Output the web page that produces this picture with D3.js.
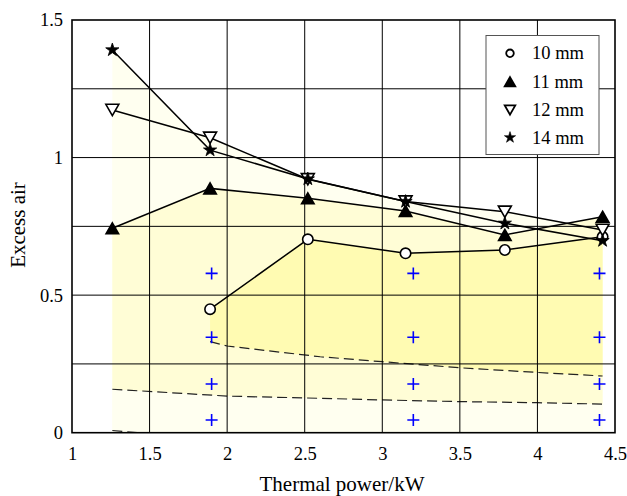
<!DOCTYPE html>
<html>
<head>
<meta charset="utf-8">
<script src="https://cdn.jsdelivr.net/npm/d3@7"></script>
<style>
  html, body { margin: 0; padding: 0; background: #fff; }
  svg { display: block; }
  text { font-family: "Liberation Serif", "Times New Roman", serif; fill: #000; }
</style>
</head>
<body>
<svg id="chart" width="627" height="496"></svg>
<script>
// ---- data ----
const powerX = [1.26, 1.89, 2.52, 3.15, 3.79, 4.42];
const seriesNames = ["10 mm", "11 mm", "12 mm", "14 mm"];
const air10 = [null, 0.449, 0.703, 0.652, 0.664, 0.712];
const air11 = [0.743, 0.888, 0.852, 0.806, 0.719, 0.785];
const air12 = [1.173, 1.072, 0.921, 0.840, 0.803, 0.737];
const air14 = [1.391, 1.027, 0.922, 0.840, 0.761, 0.698];

const crossX = [1.9, 3.2, 4.4];
const crossY = [0.579, 0.347, 0.177, 0.046];

const upperDashX = [1.89, 2.0, 2.6, 3.0, 3.5, 4.0, 4.42];
const upperDashY = [0.331, 0.315, 0.276, 0.258, 0.236, 0.219, 0.206];
const lowerDashX = [1.26, 2.0, 2.6, 3.0, 3.5, 4.0, 4.42];
const lowerDashY = [0.158, 0.133, 0.125, 0.119, 0.113, 0.109, 0.104];
const bottomDashX = [1.26, 1.42, 1.6];
const bottomDashY = [0.008, 0.0, -0.012];

const xTicks = [1, 1.5, 2, 2.5, 3, 3.5, 4, 4.5];
const yTicks = [0, 0.5, 1, 1.5];
const yGrid = [0.25, 0.5, 0.75, 1, 1.25];
const xTitle = "Thermal power/kW";
const yTitle = "Excess air";

// ---- layout ----
const svg = d3.select("#chart");
const L = 72, R = 615, T = 20, B = 432.7;
const x = d3.scaleLinear().domain([1, 4.5]).range([L, R]);
const y = d3.scaleLinear().domain([0, 1.5]).range([B, T]);

const defs = svg.append("defs");
defs.append("clipPath").attr("id", "plotClip")
  .append("rect").attr("x", L).attr("y", T).attr("width", R - L).attr("height", B - T);

const pts = (xs, ys) => xs.map((v, i) => [v, ys[i]]).filter(d => d[1] !== null);
const line = d3.line().x(d => x(d[0])).y(d => y(d[1]));

const plot = svg.append("g").attr("clip-path", "url(#plotClip)");

// ---- shaded regions ----
function polyUnder(p) {
  const poly = p.concat([[p[p.length - 1][0], 0], [p[0][0], 0]]);
  return line(poly) + "Z";
}
function polyBetween(top, bottom) {
  const poly = top.concat(bottom.slice().reverse());
  return line(poly) + "Z";
}
const p10 = pts(powerX, air10), p11 = pts(powerX, air11), p12 = pts(powerX, air12), p14 = pts(powerX, air14);
const pUp = pts(upperDashX, upperDashY), pLow = pts(lowerDashX, lowerDashY);

plot.append("path").attr("d", polyUnder(p14)).attr("fill", "#fffff0");
plot.append("path").attr("d", polyUnder(p12)).attr("fill", "#fffff0");
plot.append("path").attr("d", polyBetween(p11, pLow)).attr("fill", "#fffdd6");
plot.append("path").attr("d", polyBetween(p10, pUp)).attr("fill", "#fffbb2");

// ---- grid ----
const grid = svg.append("g").attr("stroke", "#000").attr("stroke-width", 1);
xTicks.slice(1, -1).forEach(v => {
  grid.append("line").attr("x1", x(v)).attr("x2", x(v)).attr("y1", T).attr("y2", B);
});
yGrid.forEach(v => {
  grid.append("line").attr("x1", L).attr("x2", R).attr("y1", y(v)).attr("y2", y(v));
});

// ---- dashed lines ----
[pUp, pLow, pts(bottomDashX, bottomDashY)].forEach(p => {
  plot.append("path").attr("d", line(p)).attr("fill", "none")
    .attr("stroke", "#222").attr("stroke-width", 1.2).attr("stroke-dasharray", "10,5");
});

// ---- blue crosses ----
const crosses = [];
crossX.forEach(cx => crossY.forEach(cy => crosses.push([cx, cy])));
svg.append("g").selectAll("path").data(crosses).join("path")
  .attr("d", d => {
    const px = x(d[0]), py = y(d[1]), s = 6;
    return `M${px - s},${py}H${px + s}M${px},${py - s}V${py + s}`;
  })
  .attr("stroke", "#0000ff").attr("stroke-width", 1.6).attr("fill", "none");

// ---- series lines ----
const seriesData = [p10, p11, p12, p14];
seriesData.forEach(p => {
  svg.append("path").attr("d", line(p)).attr("fill", "none")
    .attr("stroke", "#000").attr("stroke-width", 1.5);
});

// ---- markers ----
function markerPath(kind, s) {
  if (kind === 0) return d3.symbol(d3.symbolCircle, Math.PI * s * s)();
  if (kind === 1) { const w = s * 1.2, h = s * 1.05; return `M0,${-h}L${w},${h}L${-w},${h}Z`; }
  if (kind === 2) { const w = s * 1.2, h = s * 1.05; return `M0,${h}L${w},${-h}L${-w},${-h}Z`; }
  return d3.symbol(d3.symbolStar, s * s * 1.25)();
}
const markerFill = ["#fff", "#000", "#fff", "#000"];
const markerSize = [5.2, 5.2, 5.4, 6.6];
seriesData.forEach((p, k) => {
  svg.append("g").selectAll("path").data(p).join("path")
    .attr("transform", d => `translate(${x(d[0])},${y(d[1])})`)
    .attr("d", markerPath(k, markerSize[k]))
    .attr("fill", markerFill[k]).attr("stroke", "#000")
    .attr("stroke-width", k === 3 ? 0.8 : 1.6).attr("stroke-linejoin", "miter");
});

// ---- frame ----
svg.append("rect").attr("x", L).attr("y", T).attr("width", R - L).attr("height", B - T)
  .attr("fill", "none").attr("stroke", "#000").attr("stroke-width", 1.6);

// ---- axes ----
const xAxis = svg.append("g").attr("transform", `translate(0,${B})`)
  .call(d3.axisBottom(x).tickValues(xTicks).tickSize(0).tickPadding(14).tickFormat(d3.format("")));
const yAxis = svg.append("g").attr("transform", `translate(${L},0)`)
  .call(d3.axisLeft(y).tickValues(yTicks).tickSize(0).tickPadding(9).tickFormat(d3.format("")));
[xAxis, yAxis].forEach(a => {
  a.select(".domain").remove();
  a.selectAll("text").attr("font-family", "Liberation Serif, serif").attr("font-size", 18.5).attr("fill", "#000");
});

svg.append("text").attr("x", 342).attr("y", 491).attr("text-anchor", "middle")
  .attr("font-size", 21).text(xTitle);
svg.append("text").attr("transform", "translate(25,225) rotate(-90)").attr("text-anchor", "middle")
  .attr("font-size", 21).text(yTitle);

// ---- legend ----
const lg = svg.append("g");
lg.append("rect").attr("x", 486).attr("y", 35.5).attr("width", 113).attr("height", 119)
  .attr("fill", "#fff").attr("stroke", "#555").attr("stroke-width", 1);
const legY = [53.3, 81.7, 110, 137.5];
const legSize = [3.8, 4.4, 4.4, 5.6];
seriesNames.forEach((name, k) => {
  lg.append("path").attr("transform", `translate(510,${legY[k]})`)
    .attr("d", markerPath(k, legSize[k]))
    .attr("fill", markerFill[k]).attr("stroke", "#000").attr("stroke-width", k === 3 ? 0.6 : 1.8);
  lg.append("text").attr("x", 532).attr("y", legY[k] + 6).attr("font-size", 18.5).text(name);
});
</script>
</body>
</html>
